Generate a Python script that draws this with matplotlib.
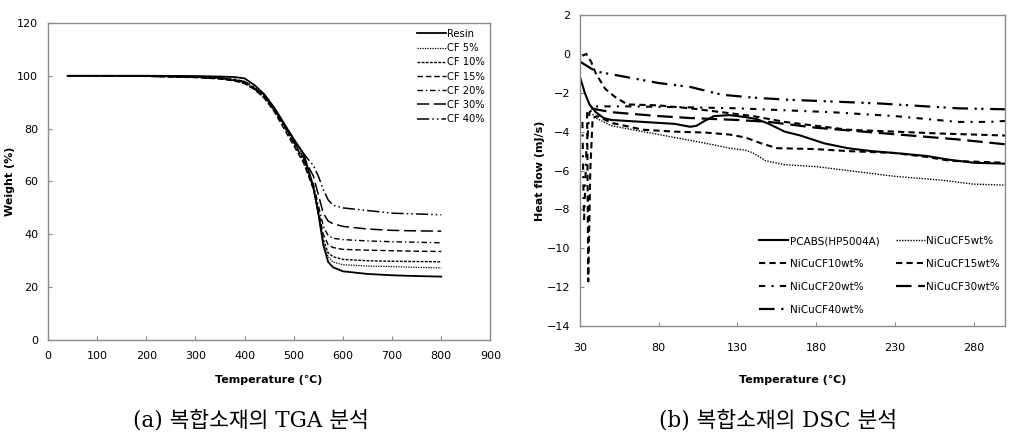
import matplotlib
matplotlib.use("Agg")
import matplotlib.pyplot as plt

plt.rcParams['font.family'] = ['DejaVu Sans']

# ---- TGA data ----
tga_temp = [40, 100, 200, 300, 350, 380, 400, 420, 440, 460, 480, 500, 520, 540, 550, 560, 570, 580, 600, 650, 700, 750, 800]
tga_resin = [100, 100, 100, 99.9, 99.7, 99.5, 99, 96.5, 93, 88, 82, 76, 70.5, 58, 48, 36, 29.5, 27.5, 26, 25, 24.5, 24.2, 24]
tga_cf5 = [100, 100, 99.9, 99.6, 99.2, 98.5, 97.5, 95.5, 92.5, 87.5, 81.5, 75.5, 69, 57, 47, 36.5, 31.5, 29.5, 28.5, 28, 27.8, 27.5, 27.3]
tga_cf10 = [100, 100, 99.9, 99.5, 99, 98.3, 97.3, 95, 91.8, 87, 81, 74.5, 68, 57.5, 48, 38, 33, 31.5, 30.5, 30, 29.8, 29.7, 29.6]
tga_cf15 = [100, 100, 99.8, 99.3, 98.8, 98, 97, 94.8, 91.5, 86.5, 80, 73.5, 67, 57, 49, 40, 36, 35, 34.3, 34, 33.8, 33.6, 33.5]
tga_cf20 = [100, 100, 99.8, 99.4, 98.9, 98.2, 97.2, 95, 92, 87, 81, 74.5, 68, 59, 51, 43, 39.5, 38.5, 38, 37.5, 37.2, 37, 36.8]
tga_cf30 = [100, 100, 99.8, 99.5, 99, 98.5, 97.5, 95.3, 92.3, 87.5, 81.5, 75, 69, 62, 55, 48, 45, 44, 43, 42, 41.5, 41.3, 41.2]
tga_cf40 = [100, 100, 99.9, 99.6, 99.2, 98.7, 97.8, 95.8, 92.8, 88, 82, 76, 70.5, 66, 62, 57, 53, 51, 50, 49, 48, 47.7, 47.4]
tga_labels = ["Resin", "CF 5%", "CF 10%", "CF 15%", "CF 20%", "CF 30%", "CF 40%"]

# ---- DSC data ----
pcabs_t = [30, 33, 36, 40, 45, 50, 70, 90, 100, 104, 108, 115, 125, 135, 142, 150, 160, 170, 185, 200, 215, 230, 250, 265, 280, 300]
pcabs_h = [-1.2, -2.0, -2.6, -3.0, -3.3, -3.4, -3.5, -3.6, -3.75, -3.7, -3.5, -3.2, -3.15, -3.25, -3.35, -3.6, -4.0, -4.2, -4.6, -4.85, -5.0, -5.1, -5.25, -5.45, -5.6, -5.65]
cf5_t = [38, 40, 50, 70, 90, 110, 125, 135, 140, 148, 160, 180, 200, 230, 260, 280, 300]
cf5_h = [-3.1, -3.3, -3.7, -4.0, -4.3, -4.6, -4.85, -4.95, -5.1, -5.5, -5.7, -5.8, -6.0, -6.3, -6.5, -6.7, -6.75]
cf10_t = [34.5, 35.2, 36.5, 38, 41, 50, 70, 90, 110, 125, 135, 145, 155, 180, 200, 230, 250, 265, 300]
cf10_h = [-3.0, -11.7, -6.0, -3.3, -3.2, -3.55, -3.9, -4.0, -4.05, -4.15, -4.3, -4.6, -4.85, -4.9, -5.0, -5.1, -5.3, -5.5, -5.6]
cf15_t = [31.5, 34, 37, 40, 46, 52, 60, 80, 100, 120, 140, 160, 180, 200, 230, 260, 300]
cf15_h = [-0.1, 0.0, -0.4, -1.0, -1.8, -2.2, -2.6, -2.65, -2.8, -3.0, -3.2, -3.5, -3.7, -3.9, -4.0, -4.1, -4.2]
cf20_t = [31.5, 32.5, 34, 36, 40, 60, 100, 130, 160, 190, 230, 250, 270, 290, 300]
cf20_h = [-3.5, -8.7, -5.0, -3.0, -2.7, -2.7, -2.75, -2.8, -2.9, -3.0, -3.2, -3.35, -3.5, -3.5, -3.45]
cf30_t = [37, 40, 50, 80, 100, 130, 150, 180, 210, 240, 270, 300]
cf30_h = [-2.8, -2.85, -3.0, -3.2, -3.3, -3.4, -3.5, -3.8, -4.0, -4.2, -4.4, -4.65]
cf40_t = [30, 40, 60, 80, 100, 110, 120, 140, 160, 190, 220, 250, 270, 300]
cf40_h = [-0.4, -0.9, -1.2, -1.5, -1.7, -1.9, -2.1, -2.25, -2.35, -2.45, -2.55, -2.7, -2.8, -2.85]
dsc_labels = ["PCABS(HP5004A)", "NiCuCF5wt%", "NiCuCF10wt%", "NiCuCF15wt%", "NiCuCF20wt%", "NiCuCF30wt%", "NiCuCF40wt%"]

frame_col = "#8c8c8c"
fig = plt.figure(figsize=(10.29, 4.38), dpi=100)

# ---------- (a) TGA ----------
ax1 = fig.add_axes([0.0466, 0.2237, 0.430, 0.724])
tga_series = [tga_resin, tga_cf5, tga_cf10, tga_cf15, tga_cf20, tga_cf30, tga_cf40]
tga_styles = ['-', (0, (1, 1)), (0, (2, 1)), (0, (4, 2)), (0, (4, 2, 1, 2)), (0, (8, 3)), (0, (8, 2, 1, 2, 1, 2))]
tga_lw = [1.3, 0.9, 1.0, 1.0, 1.0, 1.1, 1.1]
for ys, ls, lw, lab in zip(tga_series, tga_styles, tga_lw, tga_labels):
    ax1.plot(tga_temp, ys, color='black', linestyle=ls, linewidth=lw, label=lab)
ax1.set_xlim(0, 900)
ax1.set_ylim(0, 120)
ax1.set_xticks(range(0, 901, 100))
ax1.set_yticks(range(0, 121, 20))
ax1.set_xlabel("Temperature (℃)", fontsize=8, fontweight='bold')
ax1.set_ylabel("Weight (%)", fontsize=8, fontweight='bold')
ax1.xaxis.set_label_coords(0.5, -0.11)
ax1.yaxis.set_label_coords(-0.075, 0.5)
ax1.legend(loc='upper right', frameon=False, fontsize=7.2, handlelength=2.9,
           handletextpad=0.1, labelspacing=0.42, borderaxespad=0.2)
ax1.tick_params(axis='x', pad=8)
ax1.tick_params(axis='y', pad=7)

# ---------- (b) DSC ----------
ax2 = fig.add_axes([0.5637, 0.2557, 0.413, 0.710])
dsc_series = [(pcabs_t, pcabs_h), (cf5_t, cf5_h), (cf10_t, cf10_h), (cf15_t, cf15_h),
              (cf20_t, cf20_h), (cf30_t, cf30_h), (cf40_t, cf40_h)]
dsc_styles = ['-', (0, (1, 1)), (0, (3, 2)), (0, (3, 2)), (0, (3, 3, 1, 3)), (0, (7, 3)), (0, (7, 3, 1, 2, 1, 3))]
dsc_lw = [1.5, 1.0, 1.5, 1.5, 1.5, 1.6, 1.6]
handles = []
for (xs, ys), ls, lw, lab in zip(dsc_series, dsc_styles, dsc_lw, dsc_labels):
    h, = ax2.plot(xs, ys, color='black', linestyle=ls, linewidth=lw, label=lab)
    handles.append(h)
ax2.set_xlim(30, 300)
ax2.set_ylim(-14, 2)
ax2.set_xticks(range(30, 281, 50))
ax2.set_yticks(range(-14, 3, 2))
ax2.set_xlabel("Temperature (℃)", fontsize=8, fontweight='bold')
ax2.set_ylabel("Heat flow (mJ/s)", fontsize=8, fontweight='bold')
ax2.xaxis.set_label_coords(0.5, -0.158)
ax2.yaxis.set_label_coords(-0.082, 0.5)
order = [0, 2, 4, 6, 1, 3, 5]
ax2.legend([handles[i] for i in order], [dsc_labels[i] for i in order],
           loc='lower right', bbox_to_anchor=(1.01, 0.005), ncol=2, frameon=False,
           fontsize=7.5, handlelength=2.8, handletextpad=0.1, labelspacing=1.25,
           columnspacing=1.6)
ax2.tick_params(axis='x', pad=12)
ax2.tick_params(axis='y', pad=7)

for ax in (ax1, ax2):
    for sp in ax.spines.values():
        sp.set_color(frame_col)
        sp.set_linewidth(1.0)
    ax.tick_params(direction='in', length=3, width=0.8, color=frame_col, labelsize=8)

# captions (serif latin, korean from the CJK family)
cap_font = ['DejaVu Serif', 'Noto Sans CJK KR']
fig.text(0.244, 0.041, "(a) 복합소재의 TGA 분석", ha='center', va='center', fontsize=15.5, family=cap_font)
fig.text(0.756, 0.041, "(b) 복합소재의 DSC 분석", ha='center', va='center', fontsize=15.5, family=cap_font)

fig.savefig("out.png", dpi=100)
